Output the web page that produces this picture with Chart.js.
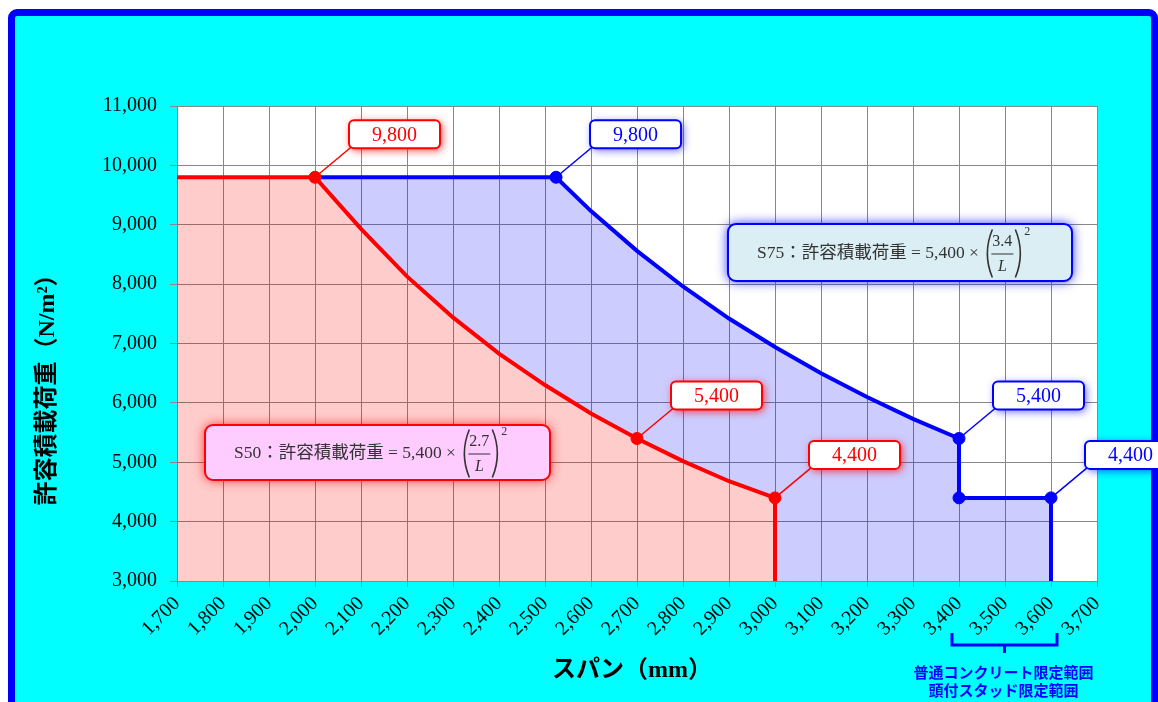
<!DOCTYPE html>
<html lang="ja">
<head>
<meta charset="utf-8">
<script src="https://cdn.jsdelivr.net/npm/chart.js@4.4.1/dist/chart.umd.min.js"></script>
<style>
  html, body { margin: 0; padding: 0; background: #fff; overflow: hidden; }
  #frame { position: absolute; left: 8px; top: 9px; width: 1136px; height: 720px;
           background: #00ffff; border: 7px solid #0000ff; border-radius: 9px; }
  #chart { position: absolute; left: 0; top: 0; }
</style>
</head>
<body>
<div id="frame"></div>
<canvas id="chart" width="1158" height="702"></canvas>
<script>
(function(){
  'use strict';

  // axis ranges (mm / N/m2)
  const spanMin = 1700, spanMax = 3700, spanStep = 100;
  const loadMin = 3000, loadMax = 11000, loadStep = 1000;

  // S50 line
  const s50Span = [1700, 2000, 2100, 2200, 2300, 2400, 2500, 2600, 2700, 2800, 2900, 3000, 3000];
  const s50Load = [9800, 9800, 8930, 8130, 7440, 6830, 6300, 5820, 5400, 5020, 4680, 4400, 3000];

  // S75 line
  const s75Span = [2000, 2524, 2600, 2700, 2800, 2900, 3000, 3100, 3200, 3300, 3400, 3400, 3600, 3600];
  const s75Load = [9800, 9800, 9230, 8560, 7960, 7420, 6940, 6500, 6100, 5730, 5400, 4400, 4400, 3000];

  // marked points with callouts
  const s50MarkSpan = [2000, 2700, 3000];
  const s50MarkLoad = [9800, 5400, 4400];
  const s75MarkSpan = [2524, 3400, 3600];
  const s75MarkLoad = [9800, 5400, 4400];
  const s75CornerSpan = [3400];
  const s75CornerLoad = [4400];

  const RED = '#ff0000', BLUE = '#0000ff';
  const NUM_FONT = '"Liberation Serif", "Noto Sans CJK JP", serif';

  const toPoints = (xs, ys) => xs.map((x, i) => ({x: x, y: ys[i]}));

  // boundary under the lavender band: the red line then the bottom of the plot
  const floorSpan = s50Span.concat([spanMax]);
  const floorLoad = s50Load.concat([loadMin]);

  const backdrop = {
    id: 'backdrop',
    beforeDraw(chart) {
      const a = chart.chartArea, ctx = chart.ctx;
      ctx.save();
      ctx.fillStyle = '#ffffff';
      ctx.fillRect(a.left, a.top, a.right - a.left, a.bottom - a.top);
      ctx.restore();
    }
  };

  function roundRect(ctx, x, y, w, h, r) {
    ctx.beginPath();
    ctx.moveTo(x + r, y);
    ctx.arcTo(x + w, y, x + w, y + h, r);
    ctx.arcTo(x + w, y + h, x, y + h, r);
    ctx.arcTo(x, y + h, x, y, r);
    ctx.arcTo(x, y, x + w, y, r);
    ctx.closePath();
  }

  function drawCallout(ctx, px, py, text, color, glow) {
    const bx = px + 34, by = py - 57, bw = 91, bh = 28;
    ctx.save();
    ctx.strokeStyle = color;
    ctx.lineWidth = 1.5;
    ctx.beginPath();
    ctx.moveTo(px, py);
    ctx.lineTo(bx + 2, by + bh - 1);
    ctx.stroke();
    roundRect(ctx, bx, by, bw, bh, 5);
    ctx.shadowColor = glow;
    ctx.shadowBlur = 9;
    ctx.shadowOffsetX = 2;
    ctx.shadowOffsetY = 2;
    ctx.fillStyle = '#ffffff';
    ctx.fill();
    ctx.shadowColor = 'transparent';
    ctx.lineWidth = 2;
    ctx.stroke();
    ctx.fillStyle = color;
    ctx.font = '20px ' + NUM_FONT;
    ctx.textAlign = 'center';
    ctx.textBaseline = 'middle';
    ctx.fillText(text, bx + bw / 2, by + bh / 2 + 1);
    ctx.restore();
  }

  function paren(ctx, x, mid, open) {
    const w = 7, h = 24;
    ctx.beginPath();
    if (open) {
      ctx.moveTo(x + w, mid - h);
      ctx.quadraticCurveTo(x - 3, mid, x + w, mid + h);
    } else {
      ctx.moveTo(x, mid - h);
      ctx.quadraticCurveTo(x + w + 3, mid, x, mid + h);
    }
    ctx.stroke();
  }

  function drawFormula(ctx, bx, by, bw, bh, f) {
    ctx.save();
    roundRect(ctx, bx, by, bw, bh, 8);
    ctx.shadowColor = f.glow;
    ctx.shadowBlur = 12;
    ctx.fillStyle = f.fill;
    ctx.fill();
    ctx.shadowColor = 'transparent';
    ctx.strokeStyle = f.stroke;
    ctx.lineWidth = 2;
    ctx.stroke();

    const mid = by + bh / 2;
    ctx.fillStyle = '#333333';
    ctx.strokeStyle = '#333333';
    ctx.textBaseline = 'middle';
    ctx.textAlign = 'left';
    ctx.font = '17.5px ' + NUM_FONT;
    const head = f.label + '：許容積載荷重 = 5,400 × ';
    let x = bx + 29;
    ctx.fillText(head, x, mid + 1);
    x += ctx.measureText(head).width + 2;

    ctx.lineWidth = 1.6;
    paren(ctx, x, mid + 1, true);
    x += 5;

    ctx.font = '16px ' + NUM_FONT;
    const fw = 24;
    ctx.textAlign = 'center';
    ctx.fillText(f.num, x + fw / 2, mid - 11);
    ctx.lineWidth = 1;
    ctx.beginPath();
    ctx.moveTo(x + 1, mid + 1.5);
    ctx.lineTo(x + fw - 1, mid + 1.5);
    ctx.stroke();
    ctx.font = 'italic 16px ' + NUM_FONT;
    ctx.fillText('L', x + fw / 2, mid + 14);
    x += fw + 1;

    ctx.lineWidth = 1.6;
    paren(ctx, x, mid + 1, false);
    x += 8;
    ctx.textAlign = 'left';
    ctx.font = '12px ' + NUM_FONT;
    ctx.fillText('2', x + 1, mid - 21);
    ctx.restore();
  }

  const annotations = {
    id: 'annotations',
    afterDatasetsDraw(chart) {
      const ctx = chart.ctx;
      const fmt = v => v.toLocaleString('en-US');
      [[0, RED, 'rgba(255,0,0,0.75)'], [2, BLUE, 'rgba(0,0,255,0.6)']].forEach(([idx, color, glow]) => {
        const meta = chart.getDatasetMeta(idx);
        const data = chart.data.datasets[idx].data;
        meta.data.forEach((pt, i) => drawCallout(ctx, pt.x, pt.y, fmt(data[i].y), color, glow));
      });
    },
    afterDraw(chart) {
      const ctx = chart.ctx, a = chart.chartArea, xs = chart.scales.x;

      drawFormula(ctx, a.left + 551, a.top + 118, 344, 57,
        {label: 'S75', num: '3.4', fill: '#daeef3', stroke: BLUE, glow: 'rgba(0,0,255,0.9)'});
      drawFormula(ctx, a.left + 28, a.top + 319, 345, 55,
        {label: 'S50', num: '2.7', fill: '#ffccff', stroke: RED, glow: 'rgba(255,0,0,0.8)'});

      ctx.save();
      ctx.fillStyle = '#000';
      ctx.textAlign = 'center';
      ctx.textBaseline = 'middle';
      ctx.font = 'bold 24px "Liberation Serif", "Noto Sans CJK JP", serif';
      ctx.fillText('スパン（mm）', (a.left + a.right) / 2 - 5, a.bottom + 90);
      ctx.translate(48, a.top + 278);
      ctx.rotate(-Math.PI / 2);
      ctx.fillText('許容積載荷重（N/m²）', 0, 0);
      ctx.restore();

      // limit range bracket under 3,400 - 3,600
      const l = xs.getPixelForValue(3400) - 7, r = xs.getPixelForValue(3600) + 6;
      const top = a.bottom + 52, base = a.bottom + 64, mid = (l + r) / 2;
      ctx.save();
      ctx.strokeStyle = BLUE;
      ctx.lineWidth = 3;
      ctx.beginPath();
      ctx.moveTo(l, top);
      ctx.lineTo(l, base);
      ctx.lineTo(r, base);
      ctx.lineTo(r, top);
      ctx.moveTo(mid, base);
      ctx.lineTo(mid, base + 8);
      ctx.stroke();
      ctx.fillStyle = BLUE;
      ctx.font = 'bold 15px "Noto Sans CJK JP", sans-serif';
      ctx.textAlign = 'center';
      ctx.textBaseline = 'middle';
      ctx.fillText('普通コンクリート限定範囲', mid - 1, a.bottom + 91);
      ctx.fillText('頭付スタッド限定範囲', mid - 1, a.bottom + 109);
      ctx.restore();
    }
  };

  const gridColor = '#888888';

  new Chart(document.getElementById('chart'), {
    type: 'line',
    data: {
      datasets: [
        { label: 'S50 点', data: toPoints(s50MarkSpan, s50MarkLoad), showLine: false,
          pointRadius: 6, pointBackgroundColor: RED, pointBorderColor: RED, borderColor: RED },
        { label: 'S50', data: toPoints(s50Span, s50Load), borderColor: RED, borderWidth: 4,
          pointRadius: 0, fill: false, tension: 0 },
        { label: 'S75 点', data: toPoints(s75MarkSpan, s75MarkLoad), showLine: false,
          pointRadius: 6, pointBackgroundColor: BLUE, pointBorderColor: BLUE, borderColor: BLUE },
        { label: 'S75 角', data: toPoints(s75CornerSpan, s75CornerLoad), showLine: false,
          pointRadius: 6, pointBackgroundColor: BLUE, pointBorderColor: BLUE, borderColor: BLUE },
        { label: 'S75', data: toPoints(s75Span, s75Load), borderColor: BLUE, borderWidth: 4,
          pointRadius: 0, tension: 0, fill: 5, backgroundColor: 'rgba(0,0,255,0.2)' },
        { label: 'floor', data: toPoints(floorSpan, floorLoad), borderColor: 'rgba(0,0,0,0)',
          borderWidth: 0, pointRadius: 0, tension: 0, fill: 'origin',
          backgroundColor: 'rgba(255,0,0,0.2)' }
      ]
    },
    options: {
      responsive: false,
      animation: false,
      locale: 'en-US',
      layout: { padding: { left: 0, top: 106, right: 61, bottom: 0 } },
      plugins: { legend: { display: false }, tooltip: { enabled: false } },
      scales: {
        x: {
          type: 'linear', min: spanMin, max: spanMax,
          ticks: { stepSize: spanStep, autoSkip: false, minRotation: 45, maxRotation: 45,
                   color: '#000', padding: 5, font: { family: NUM_FONT, size: 20 } },
          grid: { color: gridColor, tickLength: 6, tickColor: gridColor },
          border: { color: gridColor },
          afterFit: s => { s.height = 121; }
        },
        y: {
          min: loadMin, max: loadMax,
          ticks: { stepSize: loadStep, color: '#000', padding: 13, font: { family: NUM_FONT, size: 20 } },
          grid: { color: gridColor, tickLength: 7, tickColor: gridColor },
          border: { color: gridColor },
          afterFit: s => { s.width = 177; }
        }
      }
    },
    plugins: [backdrop, annotations]
  });
})();
</script>
</body>
</html>
